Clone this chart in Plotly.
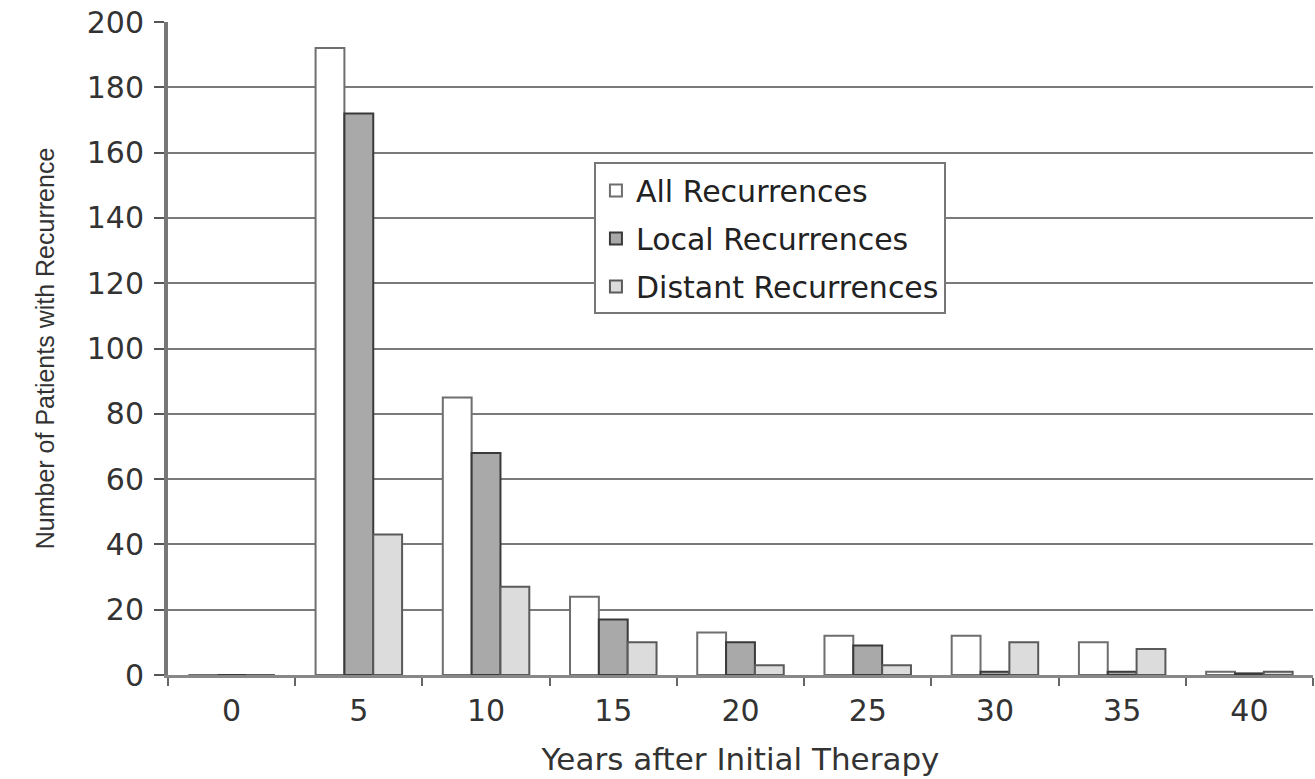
import plotly.graph_objects as go

years = ["0", "5", "10", "15", "20", "25", "30", "35", "40"]
all_rec = [0, 192, 85, 24, 13, 12, 12, 10, 1]
local_rec = [0, 172, 68, 17, 10, 9, 1, 1, 0.5]
distant_rec = [0, 43, 27, 10, 3, 3, 10, 8, 1]
y_ticks = [0, 20, 40, 60, 80, 100, 120, 140, 160, 180, 200]

fig = go.Figure()
fig.add_trace(go.Bar(x=years, y=all_rec, name="All Recurrences", legendgroup="a",
                     marker=dict(color="#ffffff", line=dict(color="#6e6e6e", width=2))))
fig.add_trace(go.Bar(x=years, y=local_rec, name="Local Recurrences", legendgroup="b",
                     marker=dict(color="#a9a9a9", line=dict(color="#3a3a3a", width=2))))
fig.add_trace(go.Bar(x=years, y=distant_rec, name="Distant Recurrences", legendgroup="c",
                     marker=dict(color="#dcdcdc", line=dict(color="#5a5a5a", width=2))))

fig.update_layout(
    width=1315, height=779,
    margin=dict(l=168, r=2, t=22, b=104),
    paper_bgcolor="white", plot_bgcolor="white",
    barmode="group", bargap=0.32, bargroupgap=0.0,
    font=dict(family="DejaVu Sans, Arial, sans-serif", size=30, color="#333333"),
    showlegend=True,
    legend=dict(x=0.372, y=0.785, xanchor="left", yanchor="top",
                bgcolor="white", bordercolor="#777777", borderwidth=2,
                font=dict(size=30, color="#222222"), tracegroupgap=6,
                itemwidth=30),
    xaxis=dict(
        title=dict(text="Years after Initial Therapy", font=dict(size=31), standoff=22),
        type="category", ticks="outside", tickson="boundaries", ticklen=8,
        tickcolor="#666666", tickwidth=2, ticklabelstandoff=7,
        showline=True, linecolor="#888888", linewidth=3,
        tickfont=dict(size=30),
    ),
    yaxis=dict(
        title=dict(text="Number of Patients with Recurrence",
                   font=dict(family="Liberation Sans Narrow, Liberation Sans, Arial", size=25),
                   standoff=26),
        range=[0, 200], tickvals=y_ticks, ticks="outside", ticklen=10,
        tickcolor="#555555", tickwidth=2, ticklabelstandoff=4,
        showgrid=True, gridcolor="#7a7a7a", gridwidth=2,
        showline=True, linecolor="#777777", linewidth=4,
        zeroline=False, tickfont=dict(size=30),
    ),
)

fig.write_html("out.html")
